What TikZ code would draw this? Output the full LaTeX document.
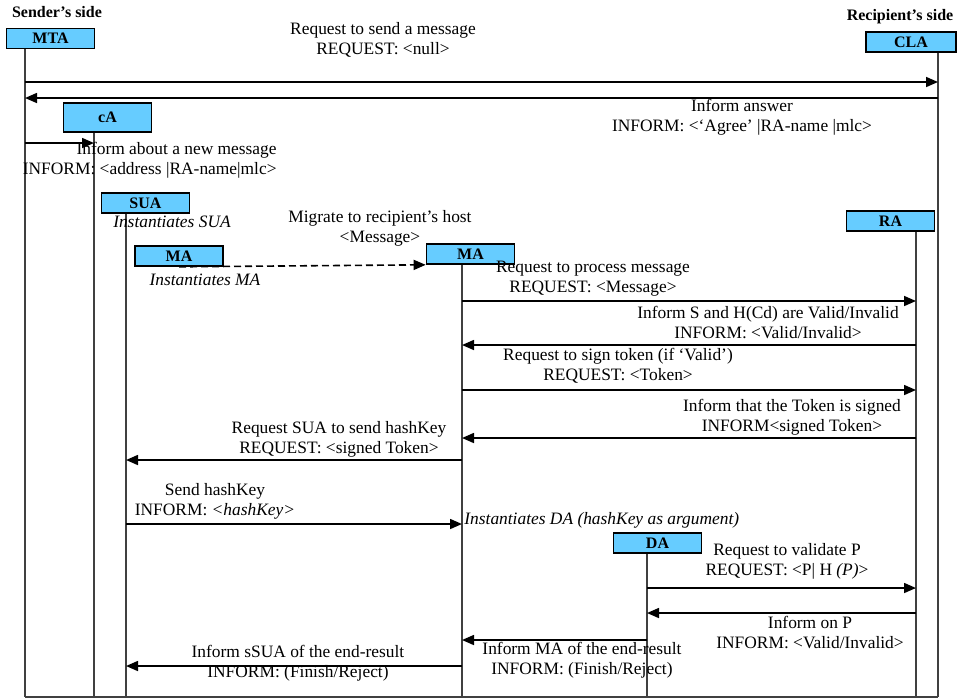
\documentclass[tikz,border=0pt]{standalone}
\usepackage{fontspec}
\setmainfont{Liberation Serif}
\usetikzlibrary{arrows.meta}
\definecolor{agentblue}{RGB}{102,204,255}

\begin{document}
\begin{tikzpicture}[x=0.5pt, y=-0.5pt,
  agent/.style={draw=black, line width=0.8pt, fill=agentblue, minimum width=44pt,
    minimum height=10pt, inner sep=0pt, font=\bfseries\fontsize{8}{9}\selectfont},
  life/.style={line width=0.8pt, draw=black!75},
  msg/.style={line width=0.8pt, -{Triangle[length=6pt,width=5pt]}},
  lbl/.style={align=center, inner sep=0pt, font=\fontsize{8.7}{10}\selectfont},
  side/.style={inner sep=0pt, font=\bfseries\fontsize{8}{9}\selectfont}]
  \useasboundingbox (0,0) rectangle (958,698);
  % Sides
  \node[side] (sender) at (57,12) {Sender’s side};
  \node[side] (recipient) at (900,17) {Recipient’s side};
  % Agents
  \node[agent] (mta) at (50.5,38.5) {MTA};
  \node[agent, minimum width=45pt] (cla) at (911,42) {CLA};
  \node[agent, minimum height=14.5pt] (ca) at (107.5,117.5) {cA};
  \node[agent] (sua) at (145.5,203) {SUA};
  \node[agent] (ma1) at (179,256) {MA};
  \node[agent] (ma2) at (470.5,254) {MA};
  \node[agent] (ra) at (890.5,221) {RA};
  \node[agent] (da) at (657.5,543) {DA};
  % Lifelines
  \coordinate (mta-end) at (25,697);
  \coordinate (cla-end) at (938,697);
  \coordinate (ca-end) at (94,697);
  \coordinate (sua-end) at (126,697);
  \coordinate (ma2-end) at (462,697);
  \coordinate (ra-end) at (916,697);
  \coordinate (da-end) at (647,697);
  \foreach \a in {mta,cla,ca,sua,ma2,ra,da}
    \draw[life] (\a.south -| \a-end) -- (\a-end);
  \draw[life] (mta-end) -- (cla-end);
  % Messages
  \foreach \from/\to/\y in {mta/cla/82, cla/mta/98, mta/ca/143,
      ma2/ra/301, ra/ma2/345, ma2/ra/390, ra/ma2/438, ma2/sua/460,
      sua/ma2/524, da/ra/588, ra/da/613, da/ma2/640, ma2/sua/666}
    \draw[msg] (\from-end |- 0,\y) -- (\to-end |- 0,\y);
  \draw[msg, dashed, dash pattern=on 3.5pt off 2pt] (ma1.south) -- (ma2.south west);
  % Labels
  \node[lbl] (l-req) at (383,40) {Request to send a message\\REQUEST: <null>};
  \node[lbl] (l-ans) at (742,117) {Inform answer\\INFORM: <‘Agree’ |RA-name |mlc>};
  \node[lbl, align=right, anchor=east] (l-new) at (277,160)
    {Inform about a new message\\INFORM: <address |RA-name|mlc>};
  \node[lbl] (l-sua) at (172,222) {\textit{Instantiates SUA}};
  \node[lbl] (l-mig) at (380,228) {Migrate to recipient’s host\\<Message>};
  \node[lbl] (l-ma) at (205,280) {\textit{Instantiates MA}};
  \node[lbl] (l-proc) at (593,279) {Request to process message\\REQUEST: <Message>};
  \node[lbl] (l-valid) at (768,322)
    {Inform S and H(Cd) are Valid/Invalid\\INFORM: <Valid/Invalid>};
  \node[lbl] (l-sign) at (618,366) {Request to sign token (if ‘Valid’)\\REQUEST: <Token>};
  \node[lbl] (l-signed) at (792,417) {Inform that the Token is signed\\INFORM<signed Token>};
  \node[lbl] (l-hreq) at (339,439) {Request SUA to send hashKey\\REQUEST: <signed Token>};
  \node[lbl] (l-hkey) at (215,501) {Send hashKey\\INFORM: \textit{<hashKey>}};
  \node[lbl, anchor=west] (l-da) at (464,520) {\textit{Instantiates DA (hashKey as argument)}};
  \node[lbl] (l-p) at (787,561) {Request to validate P\\REQUEST: <P| H \textit{(P)}>};
  \node[lbl] (l-onp) at (810,632) {Inform on P\\INFORM: <Valid/Invalid>};
  \node[lbl] (l-ma-end) at (582,660) {Inform MA of the end-result\\INFORM: (Finish/Reject)};
  \node[lbl] (l-sua-end) at (298,663) {Inform sSUA of the end-result\\INFORM: (Finish/Reject)};
\end{tikzpicture}
\end{document}
